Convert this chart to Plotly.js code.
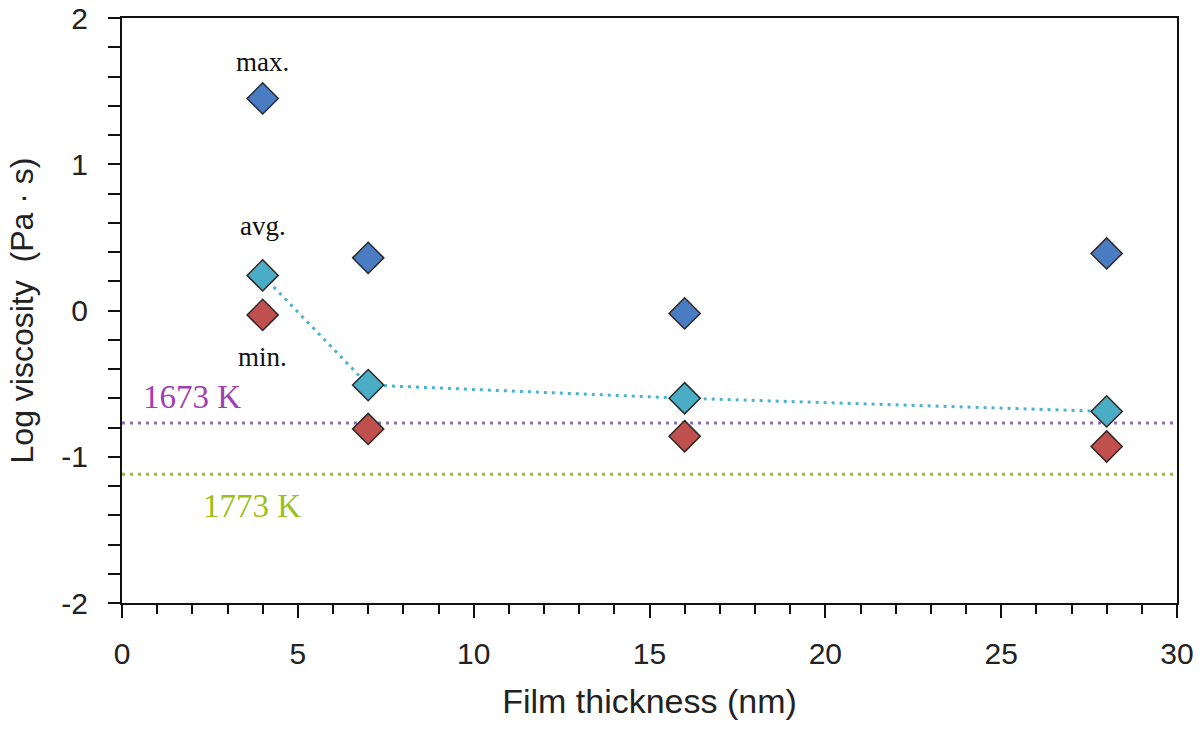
<!DOCTYPE html>
<html>
<head>
<meta charset="utf-8">
<script src="https://cdn.plot.ly/plotly-3.0.1.min.js"></script>
<style>html,body{margin:0;padding:0;background:#fff;}#chart{width:1200px;height:736px;}</style>
</head>
<body>
<div id="chart"></div>
<script>
const thickness = [4, 7, 16, 28];
const maxVisc = [1.45, 0.36, -0.02, 0.39];
const avgVisc = [0.24, -0.51, -0.60, -0.69];
const minVisc = [-0.03, -0.81, -0.86, -0.93];
const refRange = [0, 30];
const ref1673 = [-0.77, -0.77];
const ref1773 = [-1.12, -1.12];
const yTickVals = [-2, -1, 0, 1, 2];
const yTickText = ["-2", "-1", "0", "1", "2"];
const xTickVals = [0, 5, 10, 15, 20, 25, 30];
const xTickText = ["0", "5", "10", "15", "20", "25", "30"];
const labelText = ["max.", "avg.", "min.", "1673 K", "1773 K"];
const labelX = [4, 4, 4, 2.0, 3.7];
const labelY = [1.70, 0.58, -0.32, -0.59, -1.34];
const labelSize = [27, 27, 27, 33, 33];
const labelColor = ["#111111", "#111111", "#111111", "#a040b0", "#9cbf1a"];

const diamond = (color) => ({symbol: 'diamond', size: 24, color: color, line: {color: '#2a2a2a', width: 1.5}});

const traces = [
  {x: refRange, y: ref1673, mode: 'lines', line: {color: '#8a6cc0', width: 3, dash: '3px,5px'}, hoverinfo: 'skip'},
  {x: refRange, y: ref1773, mode: 'lines', line: {color: '#9bbb40', width: 3, dash: '3px,5px'}, hoverinfo: 'skip'},
  {x: thickness, y: avgVisc, mode: 'lines', line: {color: '#4bb3cf', width: 3, dash: '3px,5px'}, hoverinfo: 'skip'},
  {x: thickness, y: maxVisc, mode: 'markers', marker: diamond('#4a7cc4')},
  {x: thickness, y: minVisc, mode: 'markers', marker: diamond('#c0504d')},
  {x: thickness, y: avgVisc, mode: 'markers', marker: diamond('#4bacc6')}
];

const annotations = labelText.map((t, i) => ({
  x: labelX[i], y: labelY[i], xref: 'x', yref: 'y', text: t, showarrow: false,
  font: {family: 'Liberation Serif, Times New Roman, serif', size: labelSize[i], color: labelColor[i]}
}));

const layout = {
  width: 1200, height: 736,
  margin: {l: 122, r: 23, t: 18, b: 133},
  paper_bgcolor: '#ffffff', plot_bgcolor: '#ffffff',
  showlegend: false,
  font: {family: 'Liberation Sans, Arial, sans-serif', color: '#222222'},
  xaxis: {
    range: [0, 30], tickmode: 'array', tickvals: xTickVals, ticktext: xTickText,
    ticks: 'outside', ticklen: 13, tickwidth: 2, tickcolor: '#111',
    minor: {ticks: 'outside', dtick: 1, ticklen: 9, tickwidth: 2, tickcolor: '#111'},
    showline: true, linecolor: '#111', linewidth: 2, mirror: true,
    showgrid: false, zeroline: false,
    tickfont: {size: 30, color: '#222'}, ticklabelstandoff: 10,
    title: {text: 'Film thickness (nm)', font: {size: 34, color: '#222'}, standoff: 20}
  },
  yaxis: {
    range: [-2, 2], tickmode: 'array', tickvals: yTickVals, ticktext: yTickText,
    ticks: 'outside', ticklen: 12, tickwidth: 2, tickcolor: '#111',
    minor: {ticks: 'outside', dtick: 0.2, ticklen: 12, tickwidth: 2, tickcolor: '#111'},
    showline: true, linecolor: '#111', linewidth: 2, mirror: true,
    showgrid: false, zeroline: false,
    tickfont: {size: 30, color: '#222'}, ticklabelstandoff: 14,
    title: {text: 'Log viscosity\u00a0 (Pa\u00a0·\u00a0s)', font: {size: 32, color: '#222'}, standoff: 18}
  },
  annotations: annotations
};

Plotly.newPlot('chart', traces, layout, {displayModeBar: false, staticPlot: true});
</script>
</body>
</html>
